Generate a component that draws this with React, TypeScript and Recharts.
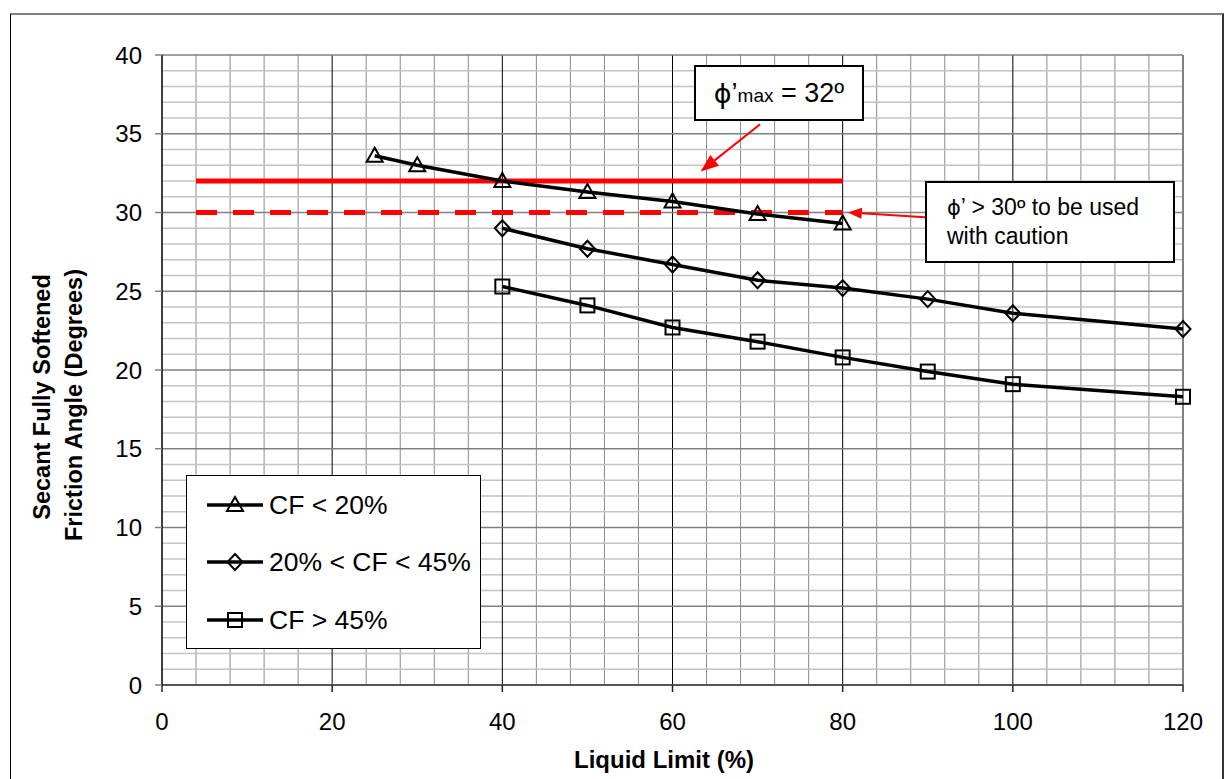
import { LineChart, Line, XAxis, YAxis, CartesianGrid, ReferenceLine, Legend } from 'recharts'

// Liquid limit (%) -> secant fully softened friction angle (deg), per clay fraction
const llLow = [25, 30, 40, 50, 60, 70, 80]
const phiLow = [33.6, 33.0, 32.0, 31.3, 30.7, 29.9, 29.3]
const llMid = [40, 50, 60, 70, 80, 90, 100, 120]
const phiMid = [29.0, 27.7, 26.7, 25.7, 25.2, 24.5, 23.6, 22.6]
const llHigh = [40, 50, 60, 70, 80, 90, 100, 120]
const phiHigh = [25.3, 24.1, 22.7, 21.8, 20.8, 19.9, 19.1, 18.3]

const seriesNames = ['CF < 20%', '20% < CF < 45%', 'CF > 45%']
const seriesMarkers = ['tri', 'dia', 'sq']

const xTicks = [0, 20, 40, 60, 80, 100, 120]
const yTicks = [0, 5, 10, 15, 20, 25, 30, 35, 40]
const xGridMinor = [4, 8, 12, 16, 24, 28, 32, 36, 44, 48, 52, 56, 64, 68, 72, 76, 84, 88, 92, 96, 104, 108, 112, 116]
const xGridMajor = [20, 40, 60, 80, 100]
const yGridMinor = [1, 2, 3, 4, 6, 7, 8, 9, 11, 12, 13, 14, 16, 17, 18, 19, 21, 22, 23, 24, 26, 27, 28, 29, 31, 32, 33, 34, 36, 37, 38, 39]

// limit lines (deg) and the LL range they span
const phiMax = 32
const phiCaution = 30
const limitFrom = 4
const limitTo = 80

// annotation arrows, [LL, phi] start -> tip
const arrowMax = [[70.3, 35.6], [63.3, 32.6]]
const arrowCaution = [[89.7, 29.7], [80.6, 30.0]]

const FONT = 'Arial, "Liberation Sans", sans-serif'
const RED = '#ff0000'

const toRows = (xs: number[], ys: number[]) => xs.map((ll, i) => ({ ll, phi: ys[i] }))
const lowData = toRows(llLow, phiLow)
const midData = toRows(llMid, phiMid)
const highData = toRows(llHigh, phiHigh)

function Marker({ kind, cx, cy }: { kind: string; cx: number; cy: number }) {
  const common = { fill: 'none', stroke: '#000', strokeWidth: 2 }
  if (kind === 'tri') {
    return <polygon points={`${cx},${cy - 8} ${cx + 8},${cy + 6} ${cx - 8},${cy + 6}`} {...common} />
  }
  if (kind === 'dia') {
    return <polygon points={`${cx},${cy - 8} ${cx + 7.5},${cy} ${cx},${cy + 8} ${cx - 7.5},${cy}`} {...common} />
  }
  return <rect x={cx - 7} y={cy - 7} width={14} height={14} {...common} />
}

function dotFor(kind: string) {
  return (p: any) => <Marker key={`${kind}-${p.index}`} kind={kind} cx={p.cx} cy={p.cy} />
}

function Arrow(p: any) {
  const { x1, y1, x2, y2, head, wide } = p
  const a = Math.atan2(y2 - y1, x2 - x1)
  const c = Math.cos(a)
  const s = Math.sin(a)
  const bx = x2 - head * c
  const by = y2 - head * s
  const ox = (-s * wide) / 2
  const oy = (c * wide) / 2
  return (
    <g>
      <line x1={x1} y1={y1} x2={bx} y2={by} stroke={RED} strokeWidth={2} />
      <polygon points={`${x2},${y2} ${bx + ox},${by + oy} ${bx - ox},${by - oy}`} fill={RED} />
    </g>
  )
}

function LegendBox() {
  const rows = [29, 86, 144]
  return (
    <div
      style={{
        position: 'relative',
        width: 295,
        height: 174,
        boxSizing: 'border-box',
        border: '1.5px solid #000',
        background: '#fff',
        fontFamily: FONT,
      }}
    >
      {seriesNames.map((name, i) => (
        <div key={name} style={{ position: 'absolute', left: 20, top: rows[i] - 15, height: 30, display: 'flex', alignItems: 'center' }}>
          <svg width={58} height={30}>
            <line x1={0} y1={15} x2={56} y2={15} stroke="#000" strokeWidth={3.5} />
            <Marker kind={seriesMarkers[i]} cx={28} cy={15} />
          </svg>
          <span style={{ fontSize: 26.5, color: '#000', marginLeft: 4, whiteSpace: 'nowrap' }}>{name}</span>
        </div>
      ))}
    </div>
  )
}

const xLabel = () => (
  <text x={664} y={768} textAnchor="middle" fontSize={24} fontWeight="bold" fill="#000">
    Liquid Limit (%)
  </text>
)

const yLabel = () => (
  <g fontSize={23.5} fontWeight="bold" fill="#000">
    <text transform="translate(50,397) rotate(-90)" textAnchor="middle">
      Secant Fully Softened
    </text>
    <text transform="translate(82,405) rotate(-90)" textAnchor="middle">
      Friction Angle (Degrees)
    </text>
  </g>
)

export default function App() {
  return (
    <div
      style={{
        position: 'absolute',
        left: 0,
        top: 0,
        width: 1229,
        height: 779,
        overflow: 'hidden',
        background: '#fff',
        fontFamily: FONT,
      }}
    >
      <div
        style={{
          position: 'absolute',
          left: 10,
          top: 13,
          width: 1214,
          height: 800,
          boxSizing: 'border-box',
          borderTop: '2px solid #808080',
          borderLeft: '1.5px solid #000',
          borderRight: '2px solid #333',
        }}
      />
      <LineChart width={1229} height={779} margin={{ top: 55, right: 46, bottom: 34, left: 82 }}>
        <CartesianGrid horizontal={false} verticalValues={xGridMinor} stroke="#8a8a8a" strokeWidth={1} />
        <CartesianGrid vertical={false} horizontalValues={yGridMinor} stroke="#c4c4c4" strokeWidth={1.5} />
        <CartesianGrid horizontal={false} verticalValues={xGridMajor} stroke="#000" strokeWidth={1} />
        <CartesianGrid vertical={false} horizontalValues={yTicks} stroke="#808080" strokeWidth={1.5} />
        <ReferenceLine x={120} stroke="#808080" strokeWidth={2} />
        <XAxis
          type="number"
          dataKey="ll"
          domain={[0, 120]}
          ticks={xTicks}
          interval={0}
          height={60}
          tickSize={7}
          tickMargin={21}
          tick={{ fill: '#000', fontSize: 24 }}
          axisLine={{ stroke: '#555', strokeWidth: 2 }}
          tickLine={{ stroke: '#222', strokeWidth: 1.5 }}
          label={xLabel}
        />
        <YAxis
          type="number"
          domain={[0, 40]}
          ticks={yTicks}
          interval={0}
          width={80}
          tickSize={7}
          tickMargin={13}
          tick={{ fill: '#000', fontSize: 24 }}
          axisLine={{ stroke: '#000', strokeWidth: 1.5 }}
          tickLine={{ stroke: '#808080', strokeWidth: 1.5 }}
          label={yLabel}
        />
        <ReferenceLine
          segment={[{ x: limitFrom, y: phiMax }, { x: limitTo, y: phiMax }]}
          stroke={RED}
          strokeWidth={5}
        />
        <ReferenceLine
          segment={[{ x: limitFrom, y: phiCaution }, { x: limitTo, y: phiCaution }]}
          stroke={RED}
          strokeWidth={5}
          strokeDasharray="21 16"
        />
        <Line
          data={lowData}
          dataKey="phi"
          name={seriesNames[0]}
          stroke="#000"
          strokeWidth={3.5}
          dot={dotFor('tri')}
          activeDot={false}
          isAnimationActive={false}
        />
        <Line
          data={midData}
          dataKey="phi"
          name={seriesNames[1]}
          stroke="#000"
          strokeWidth={3.5}
          dot={dotFor('dia')}
          activeDot={false}
          isAnimationActive={false}
        />
        <Line
          data={highData}
          dataKey="phi"
          name={seriesNames[2]}
          stroke="#000"
          strokeWidth={3.5}
          dot={dotFor('sq')}
          activeDot={false}
          isAnimationActive={false}
        />
        <ReferenceLine
          segment={[{ x: arrowMax[0][0], y: arrowMax[0][1] }, { x: arrowMax[1][0], y: arrowMax[1][1] }]}
          shape={(p: any) => <Arrow {...p} head={18} wide={14} />}
        />
        <ReferenceLine
          segment={[{ x: arrowCaution[0][0], y: arrowCaution[0][1] }, { x: arrowCaution[1][0], y: arrowCaution[1][1] }]}
          shape={(p: any) => <Arrow {...p} head={14} wide={11} />}
        />
        <Legend
          layout="vertical"
          align="center"
          verticalAlign="middle"
          wrapperStyle={{ left: 186, top: 475, width: 295, height: 174 }}
          content={() => <LegendBox />}
        />
      </LineChart>

      <div
        style={{
          position: 'absolute',
          left: 694,
          top: 65,
          width: 170,
          height: 56,
          boxSizing: 'border-box',
          border: '2px solid #000',
          background: '#fff',
          display: 'flex',
          alignItems: 'center',
          justifyContent: 'center',
          color: '#000',
          whiteSpace: 'nowrap',
        }}
      >
        <span style={{ fontSize: 27, fontFamily: '"DejaVu Sans", sans-serif' }}>ϕ</span>
        <span style={{ fontSize: 27 }}>’</span>
        <span style={{ fontSize: 19, position: 'relative', top: 3 }}>max</span>
        <span style={{ fontSize: 27 }}>&nbsp;= 32º</span>
      </div>

      <div
        style={{
          position: 'absolute',
          left: 925,
          top: 181,
          width: 250,
          height: 82,
          boxSizing: 'border-box',
          border: '2px solid #000',
          background: '#fff',
          padding: '10px 0 0 20px',
          fontSize: 23,
          lineHeight: '28px',
          color: '#000',
        }}
      >
        <span style={{ fontFamily: '"DejaVu Sans", sans-serif', fontSize: 21 }}>ϕ</span>’ &gt; 30º to be used
        <br />
        with caution
      </div>
    </div>
  )
}
